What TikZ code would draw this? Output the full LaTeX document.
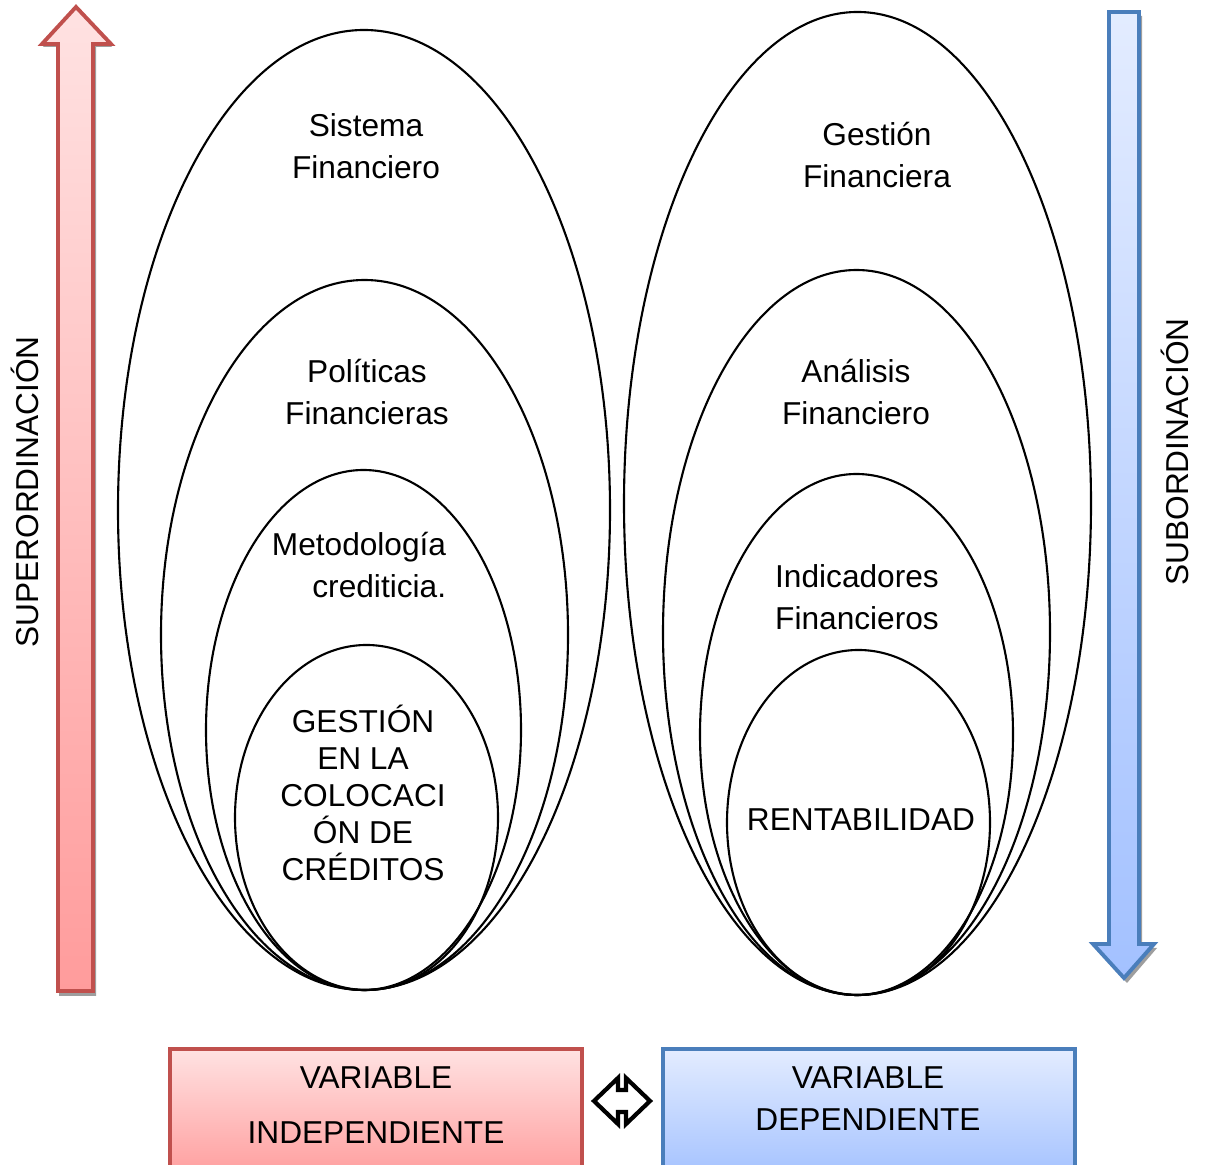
\documentclass[tikz,border=0pt]{standalone}
\usepackage{fontspec}
\setmainfont{Liberation Sans}
\begin{document}
\begin{tikzpicture}[x=0.01cm,y=-0.01cm,
  ell/.style={draw=black,line width=0.6pt},
  lbl/.style={font=\fontsize{9}{12}\selectfont,align=center,inner sep=0pt},
  redfill/.style={top color=red1,bottom color=red2,draw=redb,line width=1.1pt},
  bluefill/.style={top color=blue1,bottom color=blue2,draw=blueb,line width=1.1pt},
  shadowfill/.style={fill=black!38,draw=none}]
\definecolor{red1}{HTML}{FFE2E2}
\definecolor{red2}{HTML}{FF9C9C}
\definecolor{redb}{HTML}{C0504D}
\definecolor{blue1}{HTML}{E3ECFF}
\definecolor{blue2}{HTML}{A3C1FF}
\definecolor{blueb}{HTML}{4A7EBB}
\useasboundingbox (0,0) rectangle (1206,1165);

% left up arrow (shadow then arrow)
\fill[shadowfill] (59,47) -- (43,47) -- (77,10) -- (112,47) -- (96,47) -- (96,996) -- (59,996) -- cycle;
\shade[redfill] (58,44) -- (42,44) -- (76,7) -- (111,44) -- (93,44) -- (93,991) -- (58,991) -- cycle;

% right down arrow
\fill[shadowfill] (1112,16) -- (1142,16) -- (1142,948) -- (1157,948) -- (1127,983) -- (1096,948) -- (1112,948) -- cycle;
\shade[bluefill] (1109,12) -- (1139,12) -- (1139,944) -- (1154,944) -- (1124,978) -- (1093,944) -- (1109,944) -- cycle;

% left ellipses
\draw[ell] (364,510) ellipse [x radius=246, y radius=480];
\draw[ell] (364.5,635) ellipse [x radius=203.5, y radius=355];
\draw[ell] (363.5,730) ellipse [x radius=157.5, y radius=260];
\draw[ell] (366.5,817.5) ellipse [x radius=131.5, y radius=172.5];

% right ellipses
\draw[ell] (857.5,503.5) ellipse [x radius=233.5, y radius=491.5];
\draw[ell] (856.5,632.5) ellipse [x radius=193.5, y radius=362.5];
\draw[ell] (856.5,734.5) ellipse [x radius=156.5, y radius=260.5];
\draw[ell] (858.5,822.5) ellipse [x radius=131.5, y radius=172.5];

% texts
\node[lbl] (t1) at (366,146) {Sistema\\Financiero};
\node[lbl] (t2) at (367,392) {Políticas\\Financieras};
\node[lbl,align=right] (t3) at (359,565) {Metodología\\crediticia.};
\node[lbl,font=\fontsize{9}{10.5}\selectfont] (t4) at (363,793) {GESTIÓN\\EN LA\\COLOCACI\\ÓN DE\\CRÉDITOS};
\node[lbl] (r1) at (877,155) {Gestión\\Financiera};
\node[lbl] (r2) at (856,392) {Análisis\\Financiero};
\node[lbl] (r3) at (857,597) {Indicadores\\Financieros};
\node[lbl] (r4) at (861,820) {RENTABILIDAD};

\node[lbl,rotate=90] (sup) at (25,492) {SUPERORDINACIÓN};
\node[lbl,rotate=90] (sub) at (1175,452) {SUBORDINACIÓN};

% bottom boxes
\shade[redfill] (170,1049) rectangle (582,1180);
\shade[bluefill] (663,1049) rectangle (1075,1180);
\node[lbl,font=\fontsize{9}{15.6}\selectfont] (vi) at (376,1105) {VARIABLE\\INDEPENDIENTE};
\node[lbl] (vd) at (868,1099) {VARIABLE\\DEPENDIENTE};

% double arrow
\draw[black,line width=1.2pt,fill=white,line join=miter]
  (594,1101) -- (618,1078) -- (618,1090) -- (626,1090) -- (626,1078) -- (650,1101)
  -- (626,1124) -- (626,1112) -- (618,1112) -- (618,1124) -- cycle;
\end{tikzpicture}
\end{document}
